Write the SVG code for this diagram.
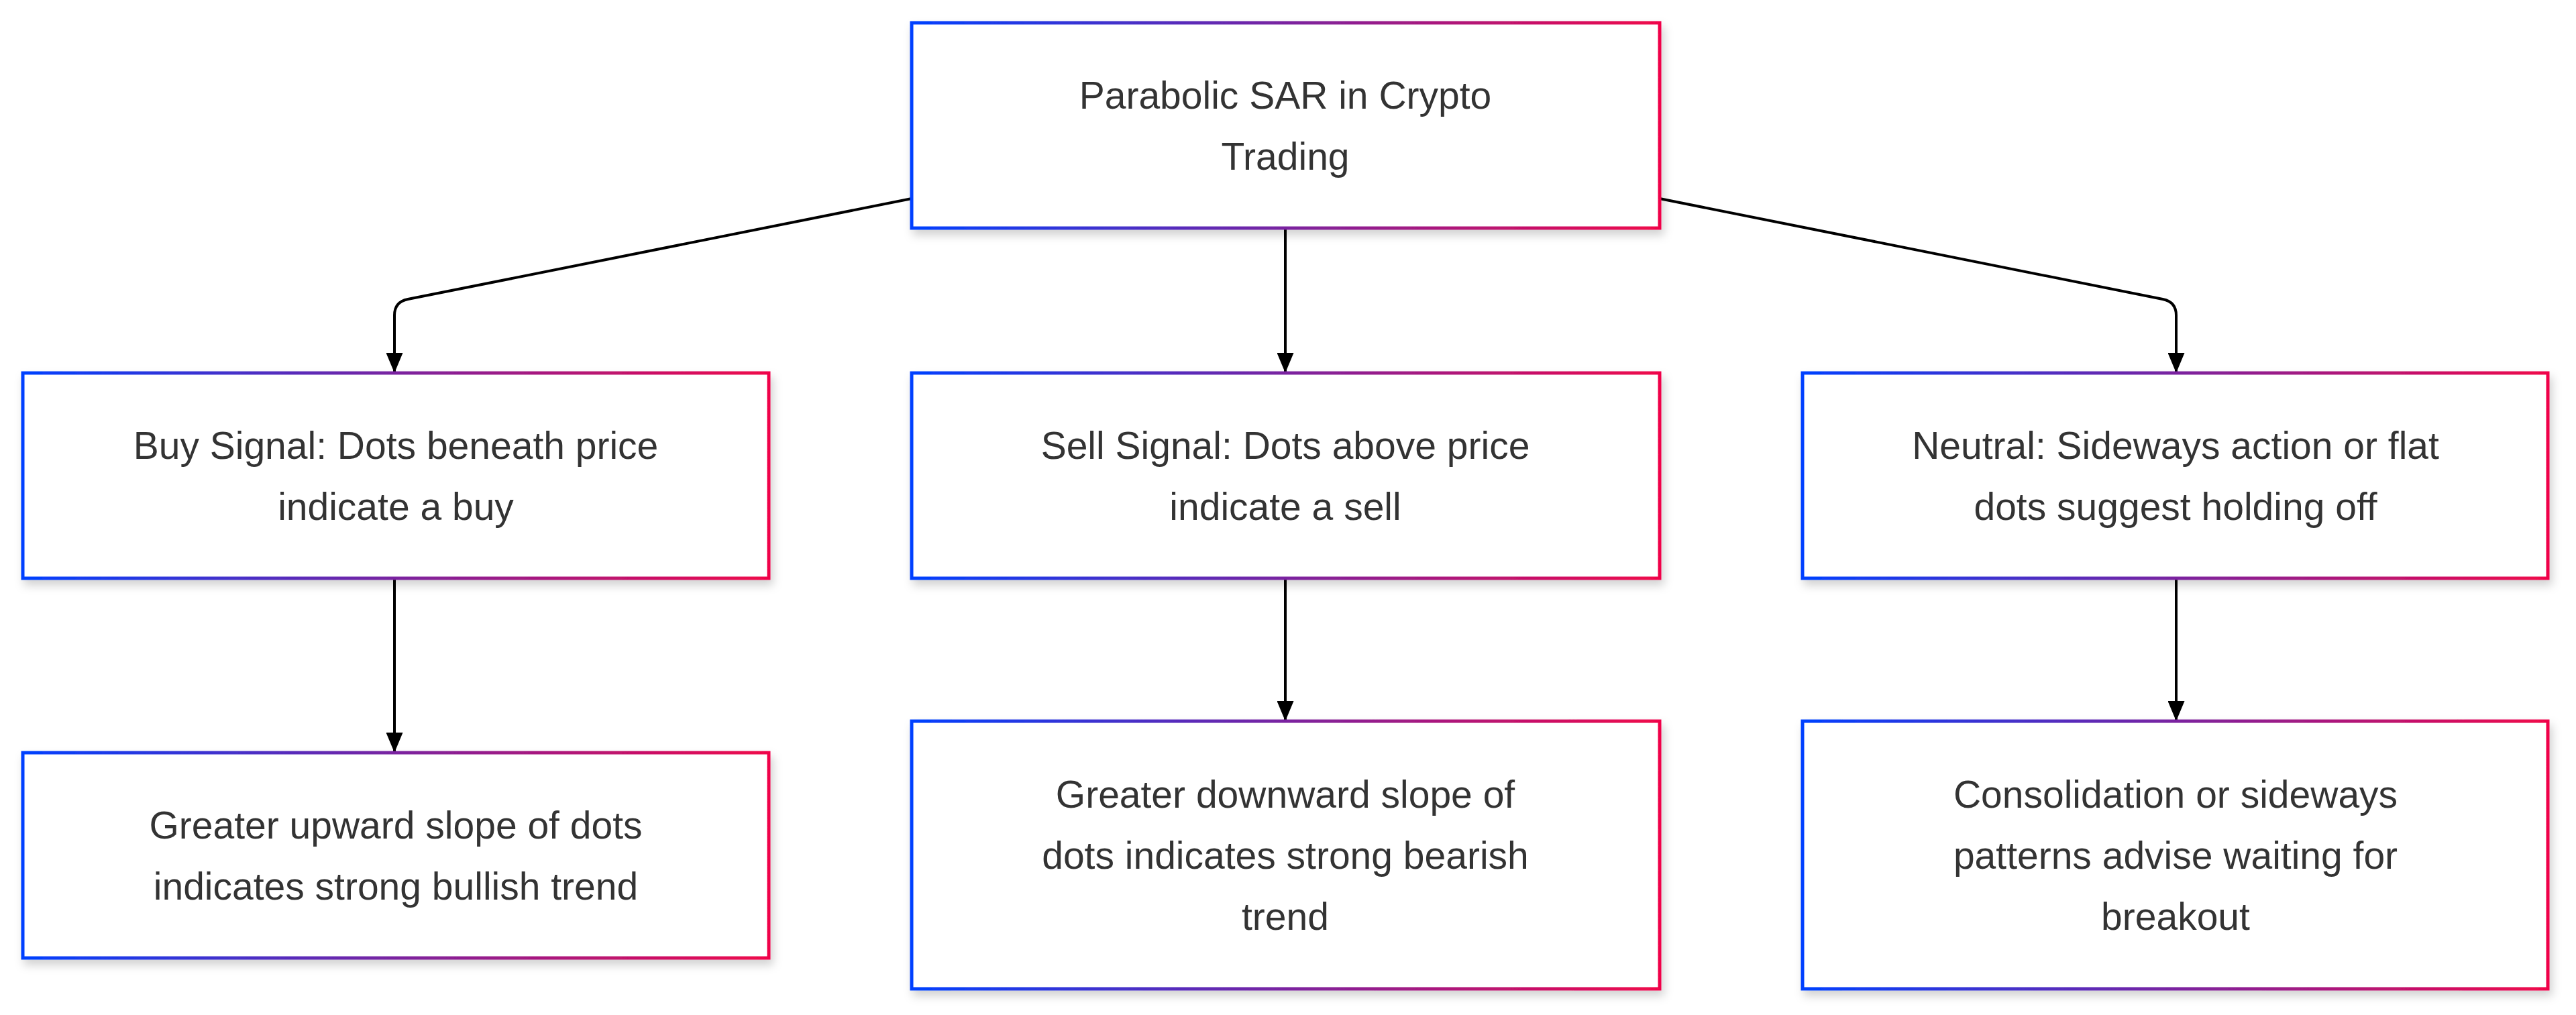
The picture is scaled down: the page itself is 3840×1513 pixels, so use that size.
<svg xmlns="http://www.w3.org/2000/svg" width="3840" height="1513" viewBox="0 0 3840 1513">
<defs>
<linearGradient id="g" x1="0" y1="0" x2="1" y2="0"><stop offset="0" stop-color="#0040ff"/><stop offset="0.5" stop-color="#7a24a0"/><stop offset="1" stop-color="#f0064a"/></linearGradient>
<filter id="sh" x="-5%" y="-5%" width="112%" height="125%"><feDropShadow dx="4" dy="8" stdDeviation="7" flood-color="#000" flood-opacity="0.18"/></filter>
<marker id="ar" viewBox="0 0 10 10" refX="10" refY="5" markerWidth="10" markerHeight="10" markerUnits="userSpaceOnUse" orient="auto"><path d="M0,0 L10,5 L0,10 z" fill="#000"/></marker>
<marker id="a" viewBox="0 0 12 10" refX="12" refY="5" markerWidth="30" markerHeight="25" markerUnits="userSpaceOnUse" orient="auto"><path d="M0,0 L12,5 L0,10 z" fill="#000"/></marker>
</defs>
<style>
rect.n{fill:#fff;stroke:url(#g);stroke-width:5;filter:url(#sh)}
text{font-family:"Liberation Sans",Arial,sans-serif;font-size:57px;fill:#333;text-anchor:middle}
.e{fill:none;stroke:#000;stroke-width:4;marker-end:url(#a)}
</style>
<rect width="3840" height="1513" fill="#fff"/>
<g id="edges">
<path class="e" d="M1359,296 L608,446 Q588,450 588,470 L588,556"/>
<path class="e" d="M2474,296 L3224,446 Q3244,450 3244,470 L3244,556"/>
<path class="e" d="M1916,340 L1916,556"/>
<path class="e" d="M588,862 L588,1122"/>
<path class="e" d="M1916,862 L1916,1075"/>
<path class="e" d="M3244,862 L3244,1075"/>
</g>
<g id="root"><rect class="n" x="1359" y="34" width="1115" height="306"/><text x="1916" y="162">Parabolic SAR in Crypto</text><text x="1916" y="253">Trading</text></g>
<g id="buy"><rect class="n" x="34" y="556" width="1112" height="306"/><text x="590" y="684">Buy Signal: Dots beneath price</text><text x="590" y="775">indicate a buy</text></g>
<g id="sell"><rect class="n" x="1359" y="556" width="1115" height="306"/><text x="1916" y="684">Sell Signal: Dots above price</text><text x="1916" y="775">indicate a sell</text></g>
<g id="neutral"><rect class="n" x="2687" y="556" width="1111" height="306"/><text x="3243" y="684">Neutral: Sideways action or flat</text><text x="3243" y="775">dots suggest holding off</text></g>
<g id="bull"><rect class="n" x="34" y="1122" width="1112" height="306"/><text x="590" y="1250">Greater upward slope of dots</text><text x="590" y="1341">indicates strong bullish trend</text></g>
<g id="bear"><rect class="n" x="1359" y="1075" width="1115" height="399"/><text x="1916" y="1204">Greater downward slope of</text><text x="1916" y="1295">dots indicates strong bearish</text><text x="1916" y="1386">trend</text></g>
<g id="consol"><rect class="n" x="2687" y="1075" width="1111" height="399"/><text x="3243" y="1204">Consolidation or sideways</text><text x="3243" y="1295">patterns advise waiting for</text><text x="3243" y="1386">breakout</text></g>
</svg>
